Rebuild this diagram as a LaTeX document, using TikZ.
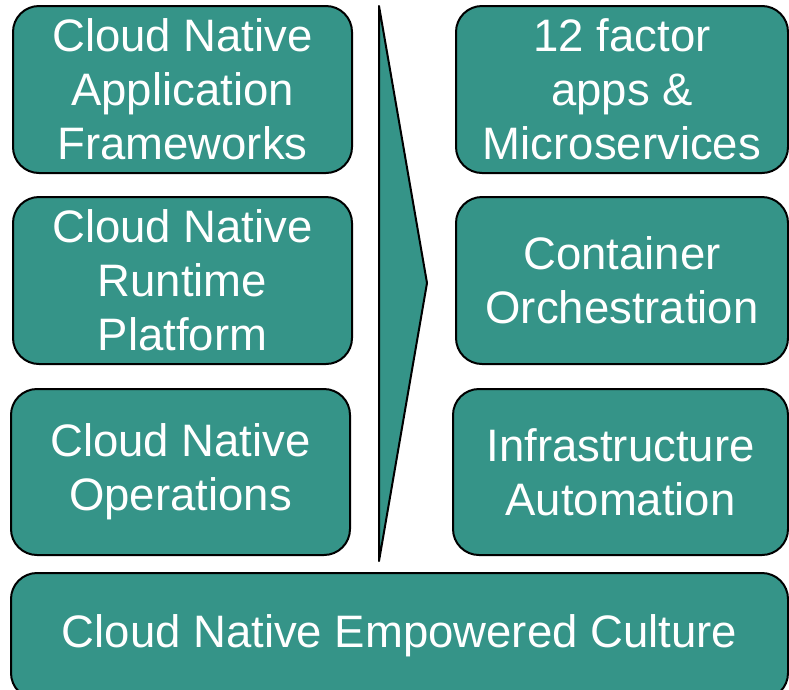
\documentclass[tikz,border=0pt]{standalone}
\usepackage{fontspec}
\setmainfont{Liberation Sans}
\definecolor{cnteal}{RGB}{53,148,136}

\begin{document}
\begin{tikzpicture}[x=1pt,y=-1pt,
  box/.style={draw=black, line width=2pt, fill=cnteal, rounded corners=26pt,
    text=white, align=center, inner sep=0pt,
    font=\fontsize{45.5}{54}\selectfont}]

\useasboundingbox (0,0) rectangle (789,689);
\clip (0,0) rectangle (789,689);

% left column
\node [box, minimum width=339pt, minimum height=167pt] (frameworks) at (182.5,89.5) {Cloud Native\\Application\\Frameworks};
\node [box, minimum width=339pt, minimum height=167pt] (runtime) at (182.5,280.5) {Cloud Native\\Runtime\\Platform};
\node [box, minimum width=339pt, minimum height=166pt] (operations) at (180.5,472) {Cloud Native\\Operations};

% arrow
\coordinate (top) at (379,6);
\coordinate (tip) at (427,283);
\coordinate (bottom) at (379,561);
\draw [line width=2pt, fill=cnteal, line join=round] (top) -- (tip) -- (bottom) -- cycle;

% right column
\node [box, minimum width=332pt, minimum height=167pt] (microservices) at (622,89.5) {12 factor\\apps \&\\Microservices};
\node [box, minimum width=332pt, minimum height=167pt] (orchestration) at (622,280.5) {Container\\Orchestration};
\node [box, minimum width=335pt, minimum height=166pt] (automation) at (620.5,472) {Infrastructure\\Automation};

% base
\node [box, minimum width=777pt, minimum height=126pt] (culture) at (399.5,636) {Cloud Native Empowered Culture};

\end{tikzpicture}
\end{document}
